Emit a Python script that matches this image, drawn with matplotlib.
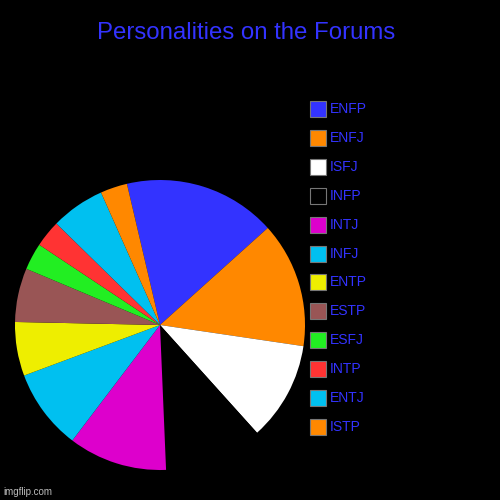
import matplotlib
matplotlib.use("Agg")
import matplotlib.pyplot as plt
from matplotlib.patches import Rectangle

plt.rcParams["font.family"] = ["Liberation Sans", "DejaVu Sans"]

TITLE = "Personalities on the Forums"
types = ["ENFP", "ENFJ", "ISFJ", "INFP", "INTJ", "INFJ",
         "ENTP", "ESTP", "ESFJ", "INTP", "ENTJ", "ISTP"]
share = [17, 14, 11, 11, 11, 9, 6, 6, 3, 3, 6, 3]
colors = ["#3333ff", "#ff8800", "#ffffff", "#000000", "#dd00cc", "#00c0f0",
          "#eeee00", "#995555", "#22ee22", "#ff3333", "#00c0f0", "#ff8800"]

BG = "#000000"
BLUE = "#3333ff"

fig = plt.figure(figsize=(5, 5), dpi=100, facecolor=BG)
# pie: centre (160,325) px, radius 145 px
ax = fig.add_axes([15 / 500, 30 / 500, 290 / 500, 290 / 500])
ax.set_facecolor(BG)
ax.pie(share, colors=colors, startangle=103.2, counterclock=False,
       wedgeprops=dict(linewidth=0))
ax.set_xlim(-1, 1)
ax.set_ylim(-1, 1)
ax.set_aspect("equal")
ax.axis("off")

fig.text(246 / 500, 1 - 33 / 500, TITLE, color=BLUE, fontsize=17.3,
         ha="center", va="center")

# legend, one row per type
y0, dy = 109, 28.9
for i, (lab, c) in enumerate(zip(types, colors)):
    y = y0 + i * dy
    fig.patches.append(Rectangle((309.5 / 500, 1 - (y + 8) / 500), 16 / 500, 16 / 500,
                                 transform=fig.transFigure, facecolor=c,
                                 edgecolor="#777777", linewidth=0.8))
    fig.text(330 / 500, 1 - y / 500, lab, color=BLUE, fontsize=10,
             ha="left", va="center")

fig.text(3 / 500, 1 - 492 / 500, "imgflip.com", color="#bbbbbb", fontsize=7,
         ha="left", va="center")

fig.savefig("out.png", dpi=100, facecolor=BG)
